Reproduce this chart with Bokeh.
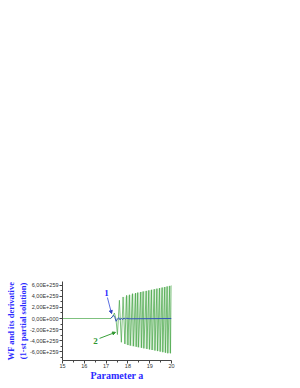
from bokeh.plotting import figure
from bokeh.models import FixedTicker, Range1d, Arrow, NormalHead, Label
from bokeh.embed import file_html
from bokeh.resources import INLINE

# ---- data (y in units of 1E259) ----
x_ticks = [15, 16, 17, 18, 19, 20]
x_minor = [15.5, 16.5, 17.5, 18.5, 19.5]
y_ticks = [-6, -4, -2, 0, 2, 4, 6]
y_minor = [-7, -5, -3, -1, 1, 3, 5]
y_labels = ["-6,00E+259", "-4,00E+259", "-2,00E+259", "0,00E+000",
            "2,00E+259", "4,00E+259", "6,00E+259"]

# curve 2 (green)
a2 = [15.0, 17.20, 17.30, 17.38, 17.45, 17.52, 17.61, 17.70, 17.78, 17.86,
      17.94, 18.00, 18.07, 18.11, 18.21, 18.25, 18.35, 18.38, 18.45, 18.48,
      18.59, 18.62, 18.70, 18.73, 18.84, 18.87, 18.96, 18.99, 19.08, 19.11,
      19.21, 19.24, 19.33, 19.36, 19.45, 19.48, 19.57, 19.60, 19.69, 19.72,
      19.80, 19.83, 19.92, 19.95, 20.0]
w2 = [0.0, 0.0, 0.3, 1.0, 0.0, -2.9, 3.3, -4.3, 3.9, -4.6,
      4.2, -4.8, 4.3, -4.9, 4.5, -5.0, 4.6, -5.1, 4.7, -5.2,
      4.8, -5.3, 4.9, -5.4, 5.0, -5.5, 5.1, -5.6, 5.2, -5.7,
      5.3, -5.8, 5.4, -5.9, 5.5, -6.0, 5.6, -6.1, 5.7, -6.2,
      5.8, -6.3, 5.9, -6.3, 6.0]
# envelope of the dense oscillation of curve 2
env_a = [17.85, 18.2, 18.6, 19.0, 19.4, 19.8, 20.0]
env_top = [3.9, 4.4, 4.8, 5.1, 5.5, 5.8, 6.0]
env_bot = [-4.6, -5.0, -5.3, -5.6, -5.9, -6.2, -6.3]

# curve 1 (blue)
a1 = [17.20, 17.28, 17.34, 17.40, 17.46, 17.52, 17.58, 17.64, 17.70,
      17.76, 17.82, 17.88, 17.95, 18.05, 20.0]
w1 = [0.0, 0.3, 0.6, 0.2, -0.5, -0.1, 0.15, -0.25, 0.1,
      -0.2, 0.1, -0.1, 0.05, -0.05, 0.0]

BLUE_TXT = "#2a2aff"
GREEN = "#48a648"
BLUE = "#3456b8"

p = figure(width=300, height=386, output_backend="svg", toolbar_location=None,
           x_range=Range1d(15, 20), y_range=Range1d(-7.6, 6.7),
           min_border_left=62, min_border_right=129,
           min_border_top=281, min_border_bottom=26)
p.outline_line_color = None
p.grid.visible = False

p.varea(x=env_a, y1=env_bot, y2=env_top, fill_color="#d6ecd6", fill_alpha=0.8)
p.line(a2, w2, line_color=GREEN, line_width=0.7)
p.line(a1, w1, line_color=BLUE, line_width=1)

# axes
for ax in (p.xaxis[0], p.yaxis[0]):
    ax.axis_line_color = "#444444"
    ax.major_tick_line_color = "#444444"
    ax.minor_tick_line_color = "#444444"
    ax.major_tick_in = 0
    ax.major_tick_out = 3
    ax.minor_tick_in = 0
    ax.minor_tick_out = 2
    ax.major_label_text_font = "Liberation Sans"
    ax.major_label_text_font_size = "5.5px"
    ax.major_label_text_color = "#333333"
    ax.axis_label_text_font = "Liberation Serif"
    ax.axis_label_text_font_style = "bold"
    ax.axis_label_text_color = BLUE_TXT

p.xaxis.ticker = FixedTicker(ticks=x_ticks, minor_ticks=x_minor)
p.yaxis.ticker = FixedTicker(ticks=y_ticks, minor_ticks=y_minor)
p.yaxis.major_label_overrides = {t: l for t, l in zip(y_ticks, y_labels)}
p.xaxis.major_label_standoff = 0
p.yaxis.major_label_standoff = 1
p.xaxis.axis_label = "Parameter a"
p.xaxis.axis_label_text_font_size = "10px"
p.xaxis.axis_label_standoff = -1
p.yaxis.axis_label = "WF and its derivative\n(1-st partial solution)"
p.yaxis.axis_label_text_font_size = "8.5px"
p.yaxis.axis_label_standoff = -1

# annotations
p.add_layout(Label(x=17.02, y=4.7, text="1", text_color=BLUE_TXT,
                   text_font="Liberation Serif", text_font_style="bold",
                   text_font_size="9px", text_align="center", text_baseline="middle"))
p.add_layout(Arrow(x_start=17.06, y_start=3.8, x_end=17.25, y_end=0.9,
                   line_color="#5a6fe0", line_width=1,
                   end=NormalHead(size=3, fill_color="#3040c0", line_color="#3040c0")))
p.add_layout(Label(x=16.51, y=-4.1, text="2", text_color="#2f962f",
                   text_font="Liberation Serif", text_font_style="bold",
                   text_font_size="9px", text_align="center", text_baseline="middle"))
p.add_layout(Arrow(x_start=16.70, y_start=-3.6, x_end=17.43, y_end=-2.5,
                   line_color="#3aa03a", line_width=1,
                   end=NormalHead(size=3, fill_color="#2f962f", line_color="#2f962f")))

open("out.html", "w").write(file_html(p, INLINE))
